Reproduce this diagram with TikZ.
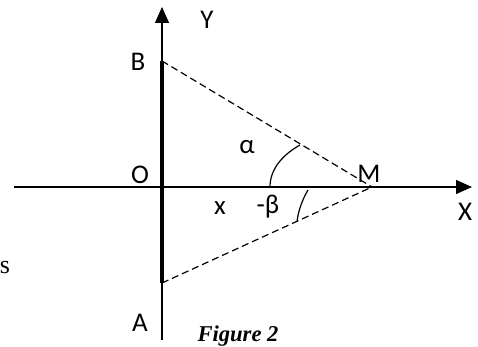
\documentclass[tikz,border=0pt]{standalone}
\usepackage{fontspec}
\setmainfont{Carlito}
\newfontfamily\capfont{Liberation Serif}
\usetikzlibrary{arrows.meta, positioning}
\tikzset{
  axisline/.style={line width=1.3pt, -{Triangle[length=16pt, width=14pt]}},
  rodline/.style={line width=4.5pt},
  dashline/.style={line width=1.2pt, dash pattern=on 7pt off 4pt},
  arcline/.style={line width=1.2pt},
  lbl/.style={font=\fontsize{27}{29}\selectfont, inner sep=0pt},
  caption/.style={font=\capfont\bfseries\itshape\fontsize{22.6}{24}\selectfont,
                  inner sep=0pt, anchor=base}
}
\begin{document}
\begin{tikzpicture}[x=1pt, y=1pt]
  \useasboundingbox (0,0) rectangle (478,346);

  %% points
  \coordinate (O) at (162,159);
  \coordinate (B) at (162,285);
  \coordinate (A) at (162,63);
  \coordinate (M) at (372,159);
  \coordinate (ybot) at (162,6);
  \coordinate (ytop) at (162,339);
  \coordinate (xleft) at (14,159);
  \coordinate (xright) at (472,159);

  %% axes and rod
  \draw[axisline] (ybot) -- (ytop);
  \draw[axisline] (xleft) -- (xright);
  \draw[rodline] (A) -- (B);

  %% dashed sight lines
  \draw[dashline] (B) -- (M);
  \draw[dashline] (A) -- (M);

  %% angle marks
  \draw[arcline] (270,159) .. controls (270,178) and (284,192) .. (300,201);
  \draw[arcline] (308,156) .. controls (302,146) and (298,134) .. (297,124);

  %% labels
  \node[lbl] (ylab) at (207,326) {Y};
  \node[lbl] (blab) at (138,284) {B};
  \node[lbl] (alab) at (247,199) {α};
  \node[lbl] (olab) at (140,171) {O};
  \node[lbl] (mlab) at (369,172) {M};
  \node[lbl] (xvar) at (220,138) {x};
  \node[lbl] (blab2) at (268,139) {-β};
  \node[lbl] (xlab) at (465,134) {X};
  \node[lbl] (alab2) at (140,23) {A};
  \node[lbl, font=\capfont\fontsize{26}{28}\selectfont] (slab) at (5,79) {s};
  \node[caption] (cap) at (238,5) {Figure 2};
\end{tikzpicture}
\end{document}
